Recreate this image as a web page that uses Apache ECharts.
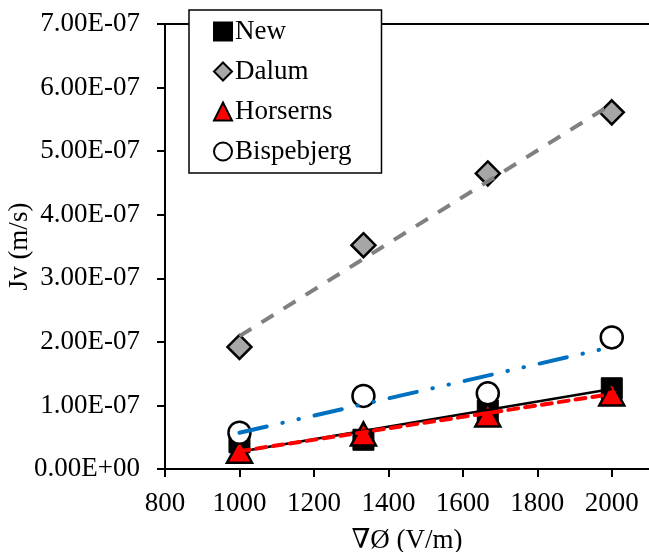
<!DOCTYPE html>
<html><head><meta charset="utf-8">
<script src="https://cdn.jsdelivr.net/npm/echarts@6/dist/echarts.min.js"></script>
<style>html,body{margin:0;padding:0;background:#fff}#c{width:649px;height:552px}</style>
</head><body><div id="c"></div>
<script>
var xValues = [1000, 1333, 1667, 2000];
var newValues = [4.2e-8, 4.6e-8, 9.2e-8, 1.27e-7];
var dalumValues = [1.92e-7, 3.52e-7, 4.65e-7, 5.61e-7];
var horsernsValues = [2.8e-8, 5.5e-8, 8.5e-8, 1.18e-7];
var bispebjergValues = [5.7e-8, 1.15e-7, 1.19e-7, 2.07e-7];
var trendX = [1000, 2000];
var newTrend = [2.7e-8, 1.26e-7];
var dalumTrend = [2.09e-7, 5.74e-7];
var horsernsTrend = [2.8e-8, 1.18e-7];
var bispebjergTrend = [5.7e-8, 1.92e-7];
var seriesNames = ['New', 'Dalum', 'Horserns', 'Bispebjerg'];

function pairs(xs, ys){ return xs.map(function(x,i){ return [x, ys[i]]; }); }
function fmtE(v){
  var s = Number(v).toExponential(2);
  var m = s.split('e');
  var e = parseInt(m[1], 10);
  var sign = e < 0 ? '-' : '+';
  var a = Math.abs(e);
  return m[0] + 'E' + sign + (a < 10 ? '0' + a : '' + a);
}
var FONT = '"Liberation Serif", "DejaVu Serif", serif';
var chart = echarts.init(document.getElementById('c'));
chart.setOption({
  animation: false,
  backgroundColor: '#fff',
  grid: {left: 165, right: 0, top: 24, bottom: 83, containLabel: false, outerBoundsMode: 'none'},
  legend: {
    data: seriesNames,
    orient: 'vertical',
    left: 189, top: 10,
    padding: [8, 30, 8, 24],
    itemGap: 13,
    itemWidth: 18, itemHeight: 18,
    backgroundColor: '#fff',
    borderColor: '#000', borderWidth: 1.5,
    textStyle: {fontFamily: FONT, fontSize: 27, color: '#000', padding: [0,0,0,-2]}
  },
  xAxis: [{
    type: 'value', min: 800, max: 2100, interval: 200,
    name: '\u2207\u00D8 (V/m)', nameLocation: 'middle', nameGap: 58,
    nameTextStyle: {fontFamily: FONT, fontSize: 27, color: '#000'},
    axisLine: {show: true, onZero: false, lineStyle: {color: '#000', width: 2}},
    axisTick: {show: true, length: 8, lineStyle: {color: '#000', width: 2}},
    axisLabel: {fontFamily: FONT, fontSize: 27, color: '#000', margin: 21, showMaxLabel: false,
      formatter: function(v){ return String(v); }},
    splitLine: {show: false}
  }, {
    type: 'value', position: 'top', min: 800, max: 2100,
    axisLine: {show: true, onZero: false, lineStyle: {color: '#000', width: 2}},
    axisTick: {show: false}, axisLabel: {show: false}, splitLine: {show: false}
  }],
  yAxis: {
    type: 'value', min: 0, max: 7e-7, interval: 1e-7,
    name: 'Jv (m/s)', nameLocation: 'middle', nameGap: 132, nameMoveOverlap: false,
    nameTextStyle: {fontFamily: FONT, fontSize: 27, color: '#000'},
    axisLine: {show: true, lineStyle: {color: '#000', width: 2}},
    axisTick: {show: true, length: 8, lineStyle: {color: '#000', width: 2}},
    axisLabel: {fontFamily: FONT, fontSize: 27, color: '#000', margin: 25, formatter: fmtE},
    splitLine: {show: false}
  },
  series: [
    {name: 'New', type: 'scatter', symbol: 'rect', symbolSize: 21, z: 2,
     itemStyle: {color: '#000', borderColor: '#000', borderWidth: 1, opacity: 1},
     data: pairs(xValues, newValues)},
    {name: 'Dalum', type: 'scatter', symbol: 'diamond', symbolSize: 24, z: 3,
     itemStyle: {color: '#a6a6a6', borderColor: '#000', borderWidth: 2.5, opacity: 1},
     data: pairs(xValues, dalumValues)},
    {name: 'Horserns', type: 'scatter', symbol: 'triangle', symbolSize: [25, 23], z: 4,
     itemStyle: {color: '#ff0000', borderColor: '#000', borderWidth: 2.5, opacity: 1},
     data: pairs(xValues, horsernsValues)},
    {name: 'Bispebjerg', type: 'scatter', symbol: 'circle', symbolSize: 22, z: 5,
     itemStyle: {color: '#fff', borderColor: '#000', borderWidth: 2.5, opacity: 1},
     data: pairs(xValues, bispebjergValues)},
    {name: 'New trend', type: 'line', symbol: 'none', silent: true, z: 6,
     lineStyle: {color: '#000', width: 2.5},
     data: pairs(trendX, newTrend)},
    {name: 'Dalum trend', type: 'line', symbol: 'none', silent: true, z: 6,
     lineStyle: {color: '#808080', width: 4, type: [14, 12], cap: 'butt'},
     data: pairs(trendX, dalumTrend)},
    {name: 'Horserns trend', type: 'line', symbol: 'none', silent: true, z: 7,
     lineStyle: {color: '#ff0000', width: 4, type: [10, 7], cap: 'round'},
     data: pairs(trendX, horsernsTrend)},
    {name: 'Bispebjerg trend', type: 'line', symbol: 'none', silent: true, z: 6,
     lineStyle: {color: '#0070c0', width: 4, type: [28, 16, 0.5, 16, 0.5, 16], cap: 'round'},
     data: pairs(trendX, bispebjergTrend)}
  ]
});
</script></body></html>
